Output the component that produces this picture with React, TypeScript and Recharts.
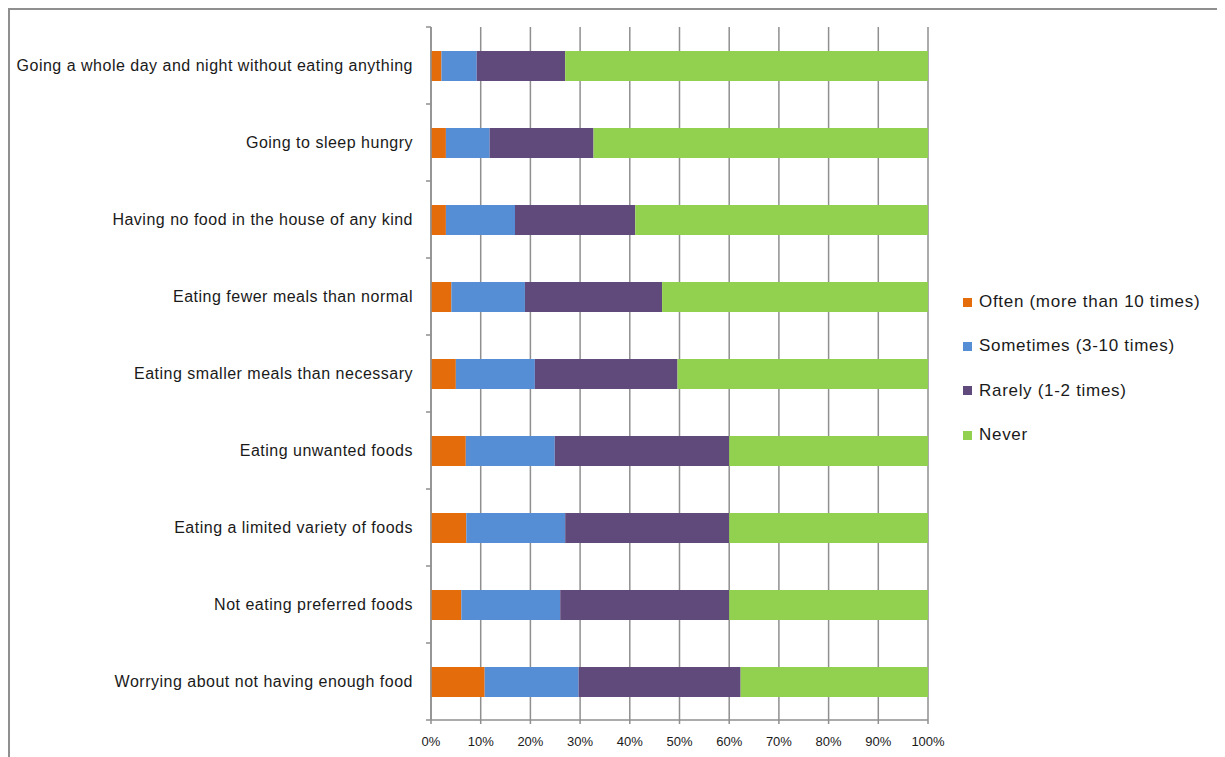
import { BarChart, Bar, XAxis, YAxis, CartesianGrid, Legend } from 'recharts';

// Survey answers, % of respondents
const categories = [
  'Going a whole day and night without eating anything',
  'Going to sleep hungry',
  'Having no food in the house of any kind',
  'Eating fewer meals than normal',
  'Eating smaller meals than necessary',
  'Eating unwanted foods',
  'Eating a limited variety of foods',
  'Not eating preferred foods',
  'Worrying about not having enough food',
];
const often = [2.1, 3.0, 3.0, 4.1, 5.0, 7.0, 7.1, 6.1, 10.8];
const sometimes = [7.1, 8.8, 13.9, 14.8, 15.9, 17.9, 19.9, 19.9, 18.9];
const rarely = [17.8, 20.9, 24.2, 27.6, 28.7, 35.1, 33.0, 34.0, 32.6];
const never = [73.0, 67.3, 58.9, 53.5, 50.4, 40.0, 40.0, 40.0, 37.7];
const xTicks = [0, 10, 20, 30, 40, 50, 60, 70, 80, 90, 100];

const series = [
  { key: 'often', name: 'Often (more than 10 times)', color: '#E46C0A' },
  { key: 'sometimes', name: 'Sometimes (3-10 times)', color: '#558ED5' },
  { key: 'rarely', name: 'Rarely (1-2 times)', color: '#604A7B' },
  { key: 'never', name: 'Never', color: '#92D050' },
];

const data = categories.map((name, i) => ({
  name,
  often: often[i],
  sometimes: sometimes[i],
  rarely: rarely[i],
  never: never[i],
}));

const W = 1207;
const H = 747;
const PLOT_LEFT = 421;
const PLOT_TOP = 17;
const PLOT_H = 693;
const BAND = PLOT_H / categories.length;
const GRID = '#8f8f8f';

function CategoryTick(props: any) {
  const { y, payload } = props;
  const idx = categories.indexOf(payload.value);
  const top = y - BAND / 2;
  return (
    <g>
      <line x1={PLOT_LEFT - 5} x2={PLOT_LEFT} y1={top} y2={top} stroke={GRID} strokeWidth={1.5} />
      {idx === categories.length - 1 && (
        <line x1={PLOT_LEFT - 5} x2={PLOT_LEFT} y1={top + BAND} y2={top + BAND} stroke={GRID} strokeWidth={1.5} />
      )}
      <text
        x={PLOT_LEFT - 18}
        y={y}
        dy="0.35em"
        textAnchor="end"
        fill="#1a1a1a"
        fontSize={16}
        letterSpacing={0.5}
      >
        {payload.value}
      </text>
    </g>
  );
}

function renderLegend() {
  return (
    <div>
      {series.map((s) => (
        <div key={s.key} style={{ display: 'flex', alignItems: 'center', height: 44.3 }}>
          <span style={{ width: 9, height: 9, background: s.color, display: 'inline-block' }} />
          <span style={{ marginLeft: 7, fontSize: 17, letterSpacing: 0.7, color: '#1a1a1a' }}>{s.name}</span>
        </div>
      ))}
    </div>
  );
}

export default function App() {
  return (
    <div
      style={{
        width: 1240,
        height: 760,
        boxSizing: 'border-box',
        borderTop: `2px solid ${GRID}`,
        borderLeft: `2px solid ${GRID}`,
        fontFamily: '"Liberation Sans", Arial, sans-serif',
        background: '#fff',
      }}
    >
      <style>{'body{overflow:hidden}'}</style>
      <BarChart
        width={W}
        height={H}
        data={data}
        layout="vertical"
        barSize={30}
        margin={{ top: PLOT_TOP, right: 289, bottom: 0, left: 0 }}
      >
        <CartesianGrid horizontal={false} stroke={GRID} strokeWidth={1.5} />
        <XAxis
          type="number"
          domain={[0, 100]}
          ticks={xTicks}
          interval={0}
          height={37}
          tickFormatter={(v) => `${v}%`}
          stroke={GRID}
          strokeWidth={1.5}
          tickSize={4}
          tickMargin={13}
          tick={{ fill: '#1a1a1a', fontSize: 13 }}
        />
        <YAxis
          type="category"
          dataKey="name"
          width={PLOT_LEFT}
          interval={0}
          tickLine={false}
          stroke={GRID}
          strokeWidth={1.5}
          tick={<CategoryTick />}
        />
        {series.map((s) => (
          <Bar
            key={s.key}
            dataKey={s.key}
            name={s.name}
            stackId="a"
            fill={s.color}
            isAnimationActive={false}
          />
        ))}
        <Legend
          layout="horizontal"
          verticalAlign="middle"
          align="center"
          content={renderLegend}
          wrapperStyle={{ left: 953, top: 270, width: 260 }}
        />
      </BarChart>
    </div>
  );
}
